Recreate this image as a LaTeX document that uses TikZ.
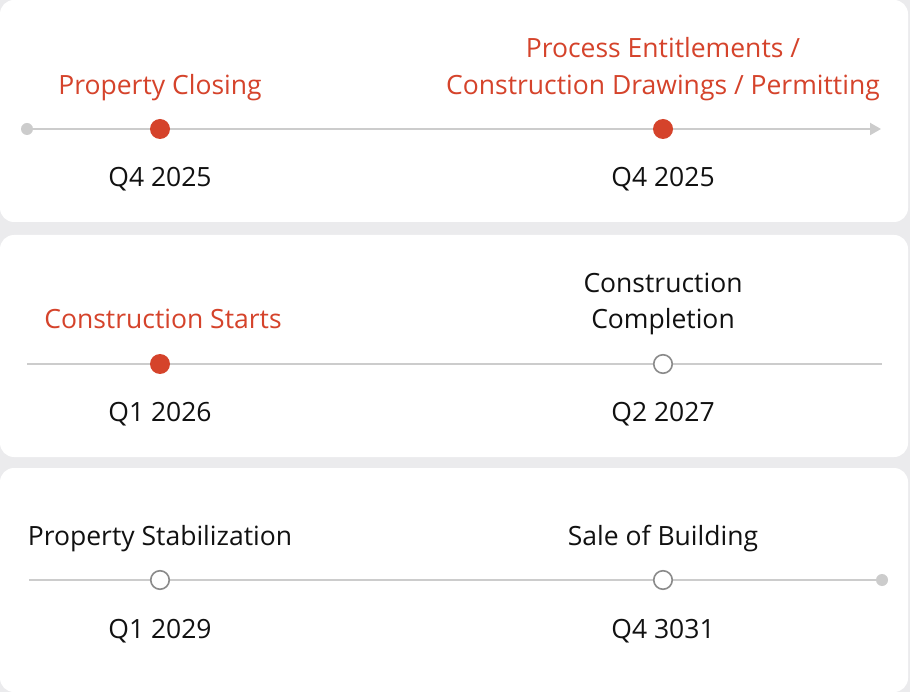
\documentclass[tikz,border=0pt]{standalone}
\usepackage{fontspec}
\setmainfont{Open Sans}
\usetikzlibrary{arrows.meta}
\definecolor{bggray}{HTML}{EBEBED}
\definecolor{linegray}{HTML}{CCCCCC}
\definecolor{ringgray}{HTML}{8A8A8A}
\definecolor{accent}{HTML}{D5432B}
\definecolor{ink}{HTML}{111111}
\tikzset{
  panel/.style={fill=white, draw=none, rounded corners=14pt},
  track/.style={draw=linegray, line width=2pt},
  donedot/.style={circle, fill=accent, draw=none, minimum size=20pt, inner sep=0pt},
  opendot/.style={circle, fill=white, draw=ringgray, line width=1.6pt, minimum size=18.5pt, inner sep=0pt},
  enddot/.style={circle, fill=linegray, draw=none, minimum size=12pt, inner sep=0pt},
  lbl/.style={anchor=base, font=\fontsize{26.5}{37}\selectfont, inner sep=0pt, align=center},
  redlbl/.style={lbl, text=accent},
  blklbl/.style={lbl, text=ink},
}
\begin{document}
\begin{tikzpicture}[x=1pt,y=-1pt]
\useasboundingbox[fill=bggray] (0,0) rectangle (910,692);
% panels
\fill[panel] (0,0) rectangle (908,222);
\fill[panel] (0,235) rectangle (908,457);
\fill[panel] (0,468) rectangle (908,692);

% ---------- panel 1 ----------
\node[enddot] (s1) at (27,129) {};
\coordinate (e1) at (881,129);
\draw[track, -{Triangle[length=11pt,width=12pt]}, shorten <=-1pt] (s1.center) -- (e1);
\node[donedot] (a1) at (160,129) {};
\node[donedot] (b1) at (663,129) {};
\node[redlbl] (ta1) at (160,95) {Property Closing};
\node[redlbl] (tb1) at (663,58) {Process Entitlements /};
\node[redlbl] (tb1b) at (663,95) {Construction Drawings / Permitting};
\node[blklbl] (da1) at (160,187) {Q4 2025};
\node[blklbl] (db1) at (663,187) {Q4 2025};

% ---------- panel 2 ----------
\coordinate (s2) at (27,364);
\coordinate (e2) at (882,364);
\draw[track] (s2) -- (e2);
\node[donedot] (a2) at (160,364) {};
\node[opendot] (b2) at (663,364) {};
\node[redlbl] (ta2) at (163,329) {Construction Starts};
\node[blklbl] (tb2) at (663,293) {Construction};
\node[blklbl] (tb2b) at (663,329) {Completion};
\node[blklbl] (da2) at (160,421) {Q1 2026};
\node[blklbl] (db2) at (663,421) {Q2 2027};

% ---------- panel 3 ----------
\coordinate (s3) at (29,580);
\node[enddot] (e3) at (882,580) {};
\draw[track] (s3) -- (e3.center);
\node[opendot] (a3) at (160,580) {};
\node[opendot] (b3) at (663,580) {};
\node[blklbl] (ta3) at (160,545) {Property Stabilization};
\node[blklbl] (tb3) at (663,545) {Sale of Building};
\node[blklbl] (da3) at (160,638) {Q1 2029};
\node[blklbl] (db3) at (663,638) {Q4 3031};
\end{tikzpicture}
\end{document}
